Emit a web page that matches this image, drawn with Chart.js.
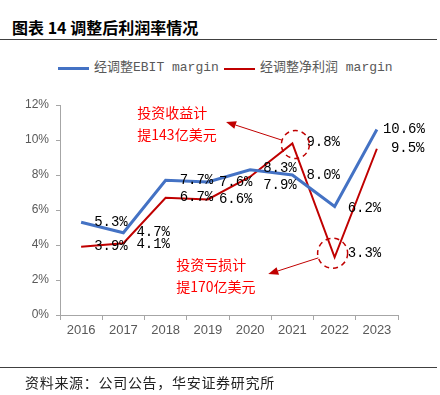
<!DOCTYPE html>
<html>
<head>
<meta charset="utf-8">
<script src="https://cdn.jsdelivr.net/npm/chart.js@4.4.0/dist/chart.umd.min.js"></script>
<style>
body { margin: 0; background: #fff; }
#wrap { position: relative; width: 440px; height: 395px; overflow: hidden; font-family: "Noto Sans CJK SC", sans-serif; }
#title { position: absolute; left: 12px; top: 16px; font-size: 16px; font-weight: bold; color: #000; line-height: 22px; white-space: nowrap; }
.rule { position: absolute; left: 0; width: 437px; height: 1px; background: #404040; }
#src { position: absolute; left: 25px; top: 372px; font-size: 14px; letter-spacing: 0.7px; color: #222; line-height: 20px; white-space: nowrap; }
.lg { position: absolute; top: 59px; font-size: 13px; color: #595959; line-height: 18px; white-space: nowrap; font-family: "Liberation Mono", "Noto Sans CJK SC", monospace; }
.sw { position: absolute; width: 31px; height: 3px; top: 67px; }
canvas { position: absolute; left: 0; top: 0; }
</style>
</head>
<body>
<div id="wrap">
  <div id="title">图表 14 调整后利润率情况</div>
  <div class="rule" style="top:39px"></div>
  <div class="sw" style="left:58px;background:#4472C4"></div>
  <div class="lg" style="left:94px">经调整EBIT margin</div>
  <div class="sw" style="left:224px;background:#C00000;height:2px;top:68px"></div>
  <div class="lg" style="left:260px">经调整净利润 margin</div>
  <canvas id="c" width="440" height="395"></canvas>
  <div class="rule" style="top:367px"></div>
  <div id="src">资料来源：公司公告，华安证券研究所</div>
</div>
<script>
// data
var years = ['2016', '2017', '2018', '2019', '2020', '2021', '2022', '2023'];
var ebitMargin = [5.3, 4.7, 7.7, 7.6, 8.3, 8.0, 6.2, 10.6];
var netMargin = [3.9, 4.1, 6.7, 6.6, 7.9, 9.8, 3.3, 9.5];
var yTicks = [0, 2, 4, 6, 8, 10, 12];

// label nudges (px) so labels sit like the original
var ebitShift = [[13, 0], [13, 0], [14, 0], [11, 0], [13, -1], [14, 0], [13, 2], [6, 0]];
var netShift = [[13, 0], [13, 1], [14, 0], [11, 0], [13, 9], [14, -1], [13, -4], [14, 0]];

// callouts, placed in data units (category index, percent)
var notes = [
  { lines: ['投资收益计', '提143亿美元'], x: 1.33, y: 11.54, ring: 5, r: 14, rdx: 3, rdy: 1, tipX: 3.43, tipY: 11.03 },
  { lines: ['投资亏损计', '提170亿美元'], x: 2.25, y: 2.86, ring: 6, r: 15, rdx: -2, rdy: -4, tipX: 4.43, tipY: 2.34 }
];

var valueLabels = {
  id: 'valueLabels',
  afterDatasetsDraw: function (chart) {
    var ctx = chart.ctx;
    var sets = [[0, ebitMargin, ebitShift], [1, netMargin, netShift]];
    ctx.save();
    ctx.font = '14px "Liberation Mono", monospace';
    ctx.fillStyle = '#000';
    ctx.textAlign = 'left';
    ctx.textBaseline = 'middle';
    sets.forEach(function (s) {
      var meta = chart.getDatasetMeta(s[0]);
      meta.data.forEach(function (pt, i) {
        ctx.fillText(s[1][i].toFixed(1) + '%', pt.x + s[2][i][0], pt.y + s[2][i][1]);
      });
    });
    ctx.restore();
  }
};

var callouts = {
  id: 'callouts',
  afterDatasetsDraw: function (chart) {
    var ctx = chart.ctx;
    var xs = chart.scales.x, ys = chart.scales.y;
    var red = '#C00000';
    ctx.save();
    notes.forEach(function (n) {
      // text
      ctx.font = '14px "Noto Sans CJK SC", sans-serif';
      ctx.fillStyle = '#FF0000';
      ctx.textAlign = 'left';
      ctx.textBaseline = 'middle';
      var tx = xs.getPixelForValue(n.x), ty = ys.getPixelForValue(n.y);
      n.lines.forEach(function (l, k) { ctx.fillText(l, tx, ty + k * 22); });

      // dashed ring round the point
      var pt = chart.getDatasetMeta(1).data[n.ring];
      var cx = pt.x + n.rdx, cy = pt.y + n.rdy;
      ctx.strokeStyle = red;
      ctx.lineWidth = 1.5;
      ctx.setLineDash([5, 4]);
      ctx.beginPath();
      ctx.arc(cx, cy, n.r, 0, Math.PI * 2);
      ctx.stroke();
      ctx.setLineDash([]);

      // arrow from ring to text
      var ex = xs.getPixelForValue(n.tipX), ey = ys.getPixelForValue(n.tipY);
      var dx = ex - cx, dy = ey - cy, d = Math.sqrt(dx * dx + dy * dy);
      var ux = dx / d, uy = dy / d;
      var sx = cx + ux * n.r, sy = cy + uy * n.r;
      var hl = 10, hw = 4;
      ctx.lineWidth = 1;
      ctx.beginPath();
      ctx.moveTo(sx, sy);
      ctx.lineTo(ex - ux * hl, ey - uy * hl);
      ctx.stroke();
      ctx.fillStyle = red;
      ctx.beginPath();
      ctx.moveTo(ex, ey);
      ctx.lineTo(ex - ux * hl - uy * hw, ey - uy * hl + ux * hw);
      ctx.lineTo(ex - ux * hl + uy * hw, ey - uy * hl - ux * hw);
      ctx.closePath();
      ctx.fill();
    });
    ctx.restore();
  }
};

var gray = '#595959';
var axisGray = '#A6A6A6';

new Chart(document.getElementById('c'), {
  type: 'line',
  data: {
    labels: years,
    datasets: [
      { label: '经调整EBIT margin', data: ebitMargin, borderColor: '#4472C4', borderWidth: 3, pointRadius: 0, tension: 0, fill: false },
      { label: '经调整净利润 margin', data: netMargin, borderColor: '#C00000', borderWidth: 2, pointRadius: 0, tension: 0, fill: false }
    ]
  },
  options: {
    responsive: false,
    animation: false,
    layout: { padding: { left: 0, right: 42, top: 105, bottom: 55 } },
    plugins: { legend: { display: false }, tooltip: { enabled: false } },
    scales: {
      x: {
        offset: true,
        grid: { display: true, offset: true, drawOnChartArea: false, drawTicks: true, tickLength: 5, color: axisGray },
        border: { display: true, color: axisGray, width: 1 },
        ticks: { color: gray, font: { size: 13, family: '"Liberation Sans", sans-serif' }, padding: 3, maxRotation: 0 },
        afterFit: function (s) { s.height = 25; }
      },
      y: {
        min: 0, max: 12,
        afterBuildTicks: function (s) { s.ticks = yTicks.map(function (v) { return { value: v }; }); },
        grid: { display: true, drawOnChartArea: false, drawTicks: true, tickLength: 4, color: axisGray },
        border: { display: true, color: axisGray, width: 1 },
        ticks: { color: gray, font: { size: 12, family: '"Liberation Sans", sans-serif' }, padding: 7, callback: function (v) { return v + '%'; } },
        afterFit: function (s) { s.width = 60; }
      }
    }
  },
  plugins: [valueLabels, callouts]
});
</script>
</body>
</html>
